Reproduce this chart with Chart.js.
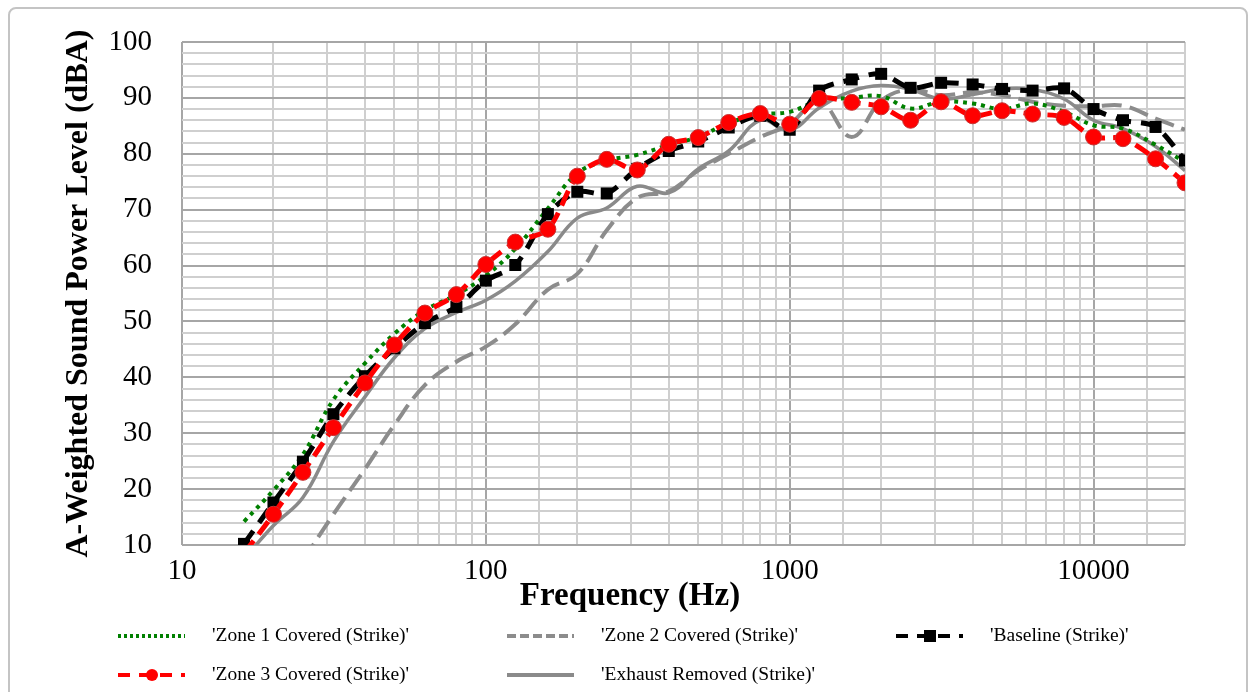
<!DOCTYPE html>
<html>
<head>
<meta charset="utf-8">
<script src="https://cdn.jsdelivr.net/npm/chart.js@4.4.1/dist/chart.umd.min.js"></script>
<style>
  html, body { margin: 0; padding: 0; background: #fff; }
  #wrap { position: relative; width: 1255px; height: 692px; overflow: hidden; }
  #frame { position: absolute; left: 8px; top: 7px; width: 1236px; height: 720px;
           border: 2px solid #c4c4c4; border-radius: 8px; }
  #chart { position: absolute; left: 0; top: 0; }
</style>
</head>
<body>
<div id="wrap">
  <div id="frame"></div>
  <canvas id="chart" width="1255" height="692"></canvas>
</div>
<script>
// 1/3 octave band centre frequencies (Hz)
const freqs = [16, 20, 25, 31.5, 40, 50, 63, 80, 100, 125, 160, 200, 250, 315, 400, 500,
               630, 800, 1000, 1250, 1600, 2000, 2500, 3150, 4000, 5000, 6300, 8000,
               10000, 12500, 16000, 20000];

const zone1 = [14.2, 19.8, 26.2, 36, 42.5, 47.8, 52, 54.8, 58.2, 63, 70.2, 76.5, 78.8, 79.8, 81.6, 83,
               85.5, 87, 87.5, 89.5, 90, 90.3, 88.1, 89.3, 89, 88, 89, 87.5,
               85.1, 84.5, 81.6, 78.5];
const zone2 = [null, null, 7.2, 15.5, 23.6, 31.5, 38.6, 42.8, 45.5, 49.5, 55.7, 58.5, 66.3, 72.1, 73.3, 77,
               80, 83, 85.3, 89.5, 83, 89.5, 91.5, 90.5, 91, 90.5, 89.3, 88.6,
               88.5, 88.6, 86.3, 84.3];
const baseline = [10.2, 17.6, 24.9, 33.4, 40.2, 45.2, 49.7, 52.6, 57.3, 60.1, 69.2, 73.2, 72.9, 77.3, 80.5, 82.2,
                  84.7, 86.8, 84.3, 91.3, 93.3, 94.3, 91.8, 92.7, 92.4, 91.6, 91.3, 91.7,
                  88, 86, 84.8, 78.8];
const zone3 = [8.5, 15.5, 23, 31, 39, 45.8, 51.5, 54.8, 60.2, 64.2, 66.5, 76, 79, 77.1, 81.7, 82.9,
               85.6, 87.2, 85.3, 89.9, 89.2, 88.4, 86, 89.3, 86.8, 87.7, 87.1, 86.5,
               83, 82.7, 79.1, 74.8];
const exhaust = [7.5, 13.5, 18.5, 28.5, 36.5, 43.5, 48.7, 51.6, 53.8, 57.2, 62.5, 68.5, 70.3, 74.2, 73, 77.3,
                 80.5, 86, 84.2, 88.2, 91.2, 92.2, 91.5, 89.8, 90.6, 91.6, 91.5, 89.8,
                 86, 84.5, 81.3, 77];

const xTickLabels = [10, 100, 1000, 10000];
const yTickLabels = [10, 20, 30, 40, 50, 60, 70, 80, 90, 100];

const pts = vals => freqs.map((f, i) => ({ x: f, y: vals[i] }));
const serif = '"Liberation Serif", "Times New Roman", serif';

// legend is laid out in Excel's 3-column grid under the axis
const legendItems = [
  { text: "'Zone 1 Covered (Strike)'", col: 0, row: 0, color: '#008000', dash: [3, 3], w: 4 },
  { text: "'Zone 2 Covered (Strike)'", col: 1, row: 0, color: '#8c8c8c', dash: [9, 4], w: 4 },
  { text: "'Baseline (Strike)'", col: 2, row: 0, color: '#000', dash: [12, 9], w: 4, marker: 'rect' },
  { text: "'Zone 3 Covered (Strike)'", col: 0, row: 1, color: '#ff0000', dash: [12, 9], w: 4, marker: 'circle' },
  { text: "'Exhaust Removed (Strike)'", col: 1, row: 1, color: '#8a8a8a', dash: [], w: 4 }
];
const legendCols = [118, 507, 896];
const legendRows = [636, 675];

const extras = {
  id: 'extras',
  afterDraw(chart) {
    const ctx = chart.ctx;
    ctx.save();
    // x axis title sits left of centre, in line with the tick labels
    ctx.font = 'bold 33px ' + serif;
    ctx.fillStyle = '#000';
    ctx.textAlign = 'center';
    ctx.textBaseline = 'alphabetic';
    ctx.fillText('Frequency (Hz)', 630, 605);

    legendItems.forEach(it => {
      const x = legendCols[it.col], y = legendRows[it.row];
      ctx.strokeStyle = it.color;
      ctx.lineWidth = it.w;
      ctx.setLineDash(it.dash);
      ctx.beginPath();
      ctx.moveTo(x, y);
      ctx.lineTo(x + 67, y);
      ctx.stroke();
      ctx.setLineDash([]);
      if (it.marker === 'rect') {
        ctx.fillStyle = it.color;
        ctx.fillRect(x + 28, y - 6, 12, 12);
      } else if (it.marker === 'circle') {
        ctx.fillStyle = it.color;
        ctx.beginPath();
        ctx.arc(x + 34, y, 6, 0, Math.PI * 2);
        ctx.fill();
      }
      ctx.fillStyle = '#000';
      ctx.font = '19.5px ' + serif;
      ctx.textAlign = 'left';
      ctx.textBaseline = 'middle';
      ctx.fillText(it.text, x + 94, y);
    });
    ctx.restore();
  }
};

new Chart(document.getElementById('chart'), {
  type: 'line',
  data: {
    datasets: [
      { label: "'Zone 3 Covered (Strike)'", data: pts(zone3), order: 1,
        borderColor: '#ff0000', borderWidth: 5, borderDash: [16, 8],
        pointStyle: 'circle', pointRadius: 8, pointBackgroundColor: '#ff0000',
        pointBorderColor: '#c83232', pointBorderWidth: 1, tension: 0.3 },
      { label: "'Baseline (Strike)'", data: pts(baseline), order: 2,
        borderColor: '#000', borderWidth: 5, borderDash: [16, 10],
        pointStyle: 'rect', pointRadius: 8.5, pointBackgroundColor: '#000',
        pointBorderColor: '#000', pointBorderWidth: 0, tension: 0.3 },
      { label: "'Zone 1 Covered (Strike)'", data: pts(zone1), order: 3,
        borderColor: '#008000', borderWidth: 4, borderDash: [4, 5],
        pointRadius: 0, tension: 0.4 },
      { label: "'Exhaust Removed (Strike)'", data: pts(exhaust), order: 4,
        borderColor: '#8a8a8a', borderWidth: 3.5,
        pointRadius: 0, tension: 0.4 },
      { label: "'Zone 2 Covered (Strike)'", data: pts(zone2), order: 5,
        borderColor: '#8c8c8c', borderWidth: 4, borderDash: [20, 8],
        pointRadius: 0, tension: 0.4 }
    ]
  },
  options: {
    responsive: false,
    animation: false,
    devicePixelRatio: 1,
    layout: { padding: { left: 0, top: 42, right: 70, bottom: 0 } },
    plugins: { legend: { display: false }, tooltip: { enabled: false } },
    scales: {
      x: {
        type: 'logarithmic',
        min: 10,
        max: 20000,
        afterFit: s => { s.height = 147; s.paddingLeft = 0; s.paddingRight = 0; },
        border: { display: false },
        grid: {
          drawTicks: false,
          lineWidth: 2,
          color: c => xTickLabels.includes(c.tick.value) ? '#a6a6a6' : '#cfcfcf'
        },
        ticks: {
          autoSkip: false,
          maxRotation: 0,
          padding: 9,
          color: '#000',
          font: { family: serif, size: 29 },
          callback: v => xTickLabels.includes(v) ? String(v) : ''
        }
      },
      y: {
        min: 10,
        max: 100,
        afterFit: s => { s.width = 182; s.paddingTop = 0; s.paddingBottom = 0; },
        border: { display: false },
        grid: {
          drawTicks: false,
          lineWidth: 2,
          color: c => yTickLabels.includes(c.tick.value) ? '#a6a6a6' : '#cfcfcf'
        },
        ticks: {
          stepSize: 2,
          autoSkip: false,
          padding: 30,
          color: '#000',
          font: { family: serif, size: 29 },
          callback: v => yTickLabels.includes(v) ? String(v) : ''
        },
        title: {
          display: true,
          text: 'A-Weighted Sound Power Level (dBA)',
          color: '#000',
          font: { family: serif, size: 32, weight: 'bold' },
          padding: { top: 60, bottom: 0 }
        }
      }
    }
  },
  plugins: [extras]
});
</script>
</body>
</html>
